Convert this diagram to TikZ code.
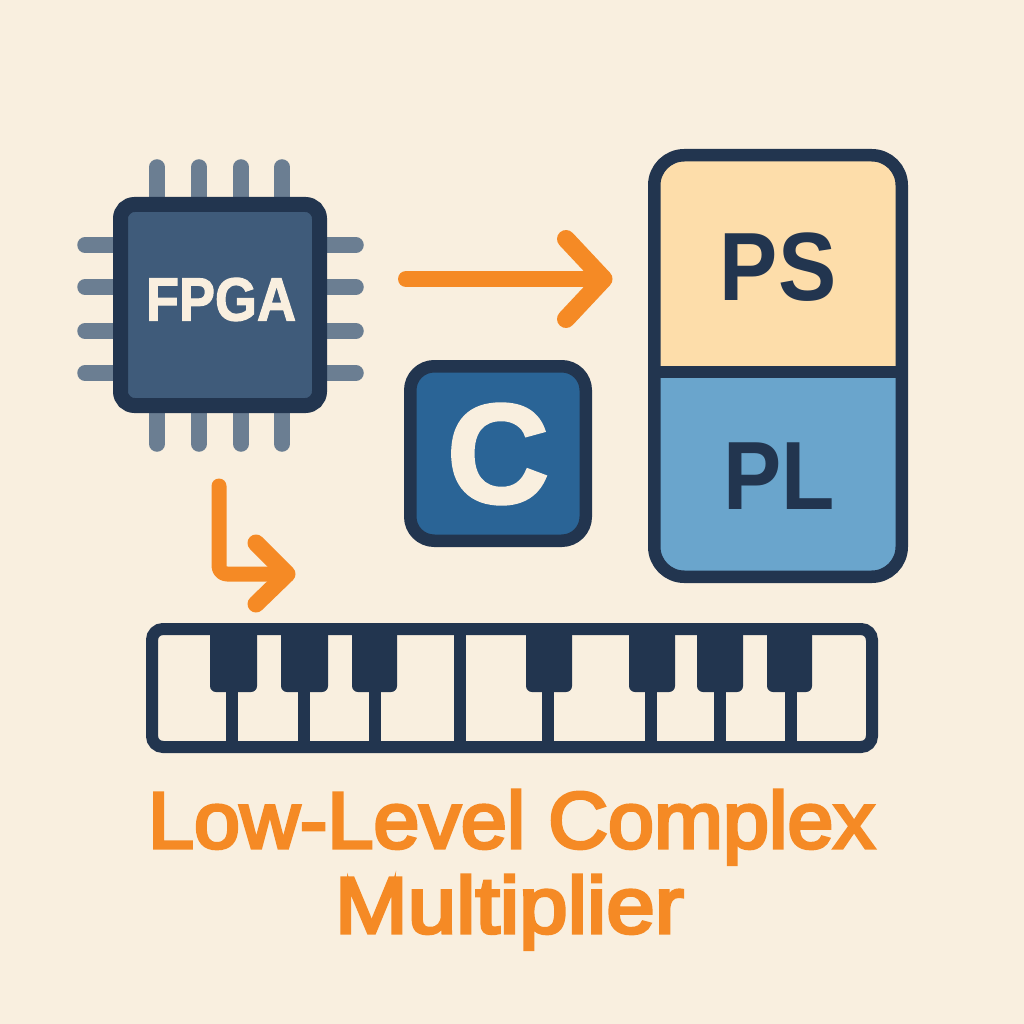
\documentclass[tikz,border=0pt]{standalone}
\usepackage{fontspec}
\setmainfont{Liberation Sans}
\newfontfamily\medfont[FakeBold=4]{Liberation Sans}
\newfontfamily\heavyfont[FakeBold=2]{Liberation Sans Bold}
\definecolor{bgc}{HTML}{F9EFDF}
\definecolor{navy}{HTML}{22354F}
\definecolor{chipin}{HTML}{3F5B7A}
\definecolor{pinc}{HTML}{6B7E92}
\definecolor{orangec}{HTML}{F58A25}
\definecolor{cblue}{HTML}{2A6496}
\definecolor{psc}{HTML}{FDDDAA}
\definecolor{plc}{HTML}{6AA5CC}
\tikzset{
  pin/.style={line width=15.5pt,pinc,line cap=round},
  arrowline/.style={orangec,line cap=round,line join=round},
  boxtext/.style={inner sep=0pt},
  keyline/.style={line width=12pt,navy},
  blackkey/.style={fill=navy,rounded corners=6pt},
  titletext/.style={inner sep=0pt,anchor=base,text=orangec,font=\fontsize{80}{80}\selectfont\medfont},
}
\begin{document}
\begin{tikzpicture}[x=1pt,y=-1pt]
\useasboundingbox (0,0) rectangle (1024,1024);
\fill[bgc] (0,0) rectangle (1024,1024);
% chip pins
\foreach \x in {157,199,241,282}{
  \draw[pin] (\x,167) -- (\x,215);
  \draw[pin] (\x,400) -- (\x,444);
}
\foreach \y in {245,287,331,373}{
  \draw[pin] (85,\y) -- (130,\y);
  \draw[pin] (310,\y) -- (356,\y);
}
% chip
\draw[navy,fill=chipin,line width=15pt,rounded corners=14pt] (120.5,204.5) rectangle (319.5,405.5);
\node[boxtext,text=bgc,font=\fontsize{61}{61}\selectfont\heavyfont] (fpga) at (221,299.5) {\scalebox{.886}[1]{FPGA}};
% arrow to PS
\coordinate (a1s) at (406,279);
\coordinate (a1e) at (603.5,279);
\coordinate (a1t) at (566,239);
\coordinate (a1b) at (566,319);
\draw[arrowline,line width=16pt] (a1s) -- (a1e);
\draw[arrowline,line width=18pt] (a1t) -- (a1e) -- (a1b);
% C box
\draw[navy,fill=cblue,line width=12.5pt,rounded corners=24pt] (410.25,366.25) rectangle (585.75,540.75);
\node[boxtext,text=bgc,font=\fontsize{142}{142}\selectfont\heavyfont] (cc) at (498,454) {C};
% PS / PL
\fill[psc,rounded corners=28pt] (654,155) -- (654,420) -- (902,420) -- (902,155) -- cycle;
\fill[plc,rounded corners=28pt] (654,330) -- (654,577) -- (902,577) -- (902,330) -- cycle;
\fill[psc] (654,300) rectangle (902,372);
\draw[navy,line width=12.5pt,rounded corners=30pt] (654.25,155.25) rectangle (901.75,576.75);
\draw[navy,line width=12pt] (654,372) -- (902,372);
\node[boxtext,text=navy,font=\fontsize{97}{97}\selectfont\bfseries] (ps) at (778,267) {\scalebox{.9}[1]{PS}};
\node[boxtext,text=navy,font=\fontsize{97}{97}\selectfont\bfseries] (pl) at (779.5,476) {\scalebox{.9}[1]{PL}};
% L arrow
\coordinate (a2s) at (219,486);
\coordinate (a2c) at (219,574);
\coordinate (a2e) at (287,574);
\coordinate (a2t) at (256,543);
\coordinate (a2b) at (256,604);
\draw[arrowline,line width=15pt,rounded corners=8pt] (a2s) -- (a2c) -- (a2e);
\draw[arrowline,line width=17pt] (a2t) -- (a2e) -- (a2b);
% keyboard
\draw[keyline,rounded corners=11pt] (152,629) rectangle (872,747);
\foreach \a/\b in {210/257,281/328,352/397,526/572,629/675,697/743,767/812}{
  \path[blackkey] (\a,628) -- (\a,692) -- (\b,692) -- (\b,628) -- cycle;
}
\foreach \x in {232,304,375,548,651,720,791}{
  \draw[keyline] (\x,680) -- (\x,742);
}
\draw[keyline] (460,630) -- (460,742);
% title
\node[titletext] (t1) at (511.5,848) {\scalebox{1.035}[1]{Low-Level Complex}};
\node[titletext] (t2) at (509.5,933) {\scalebox{1.09}[1]{Multiplier}};
\end{tikzpicture}
\end{document}
